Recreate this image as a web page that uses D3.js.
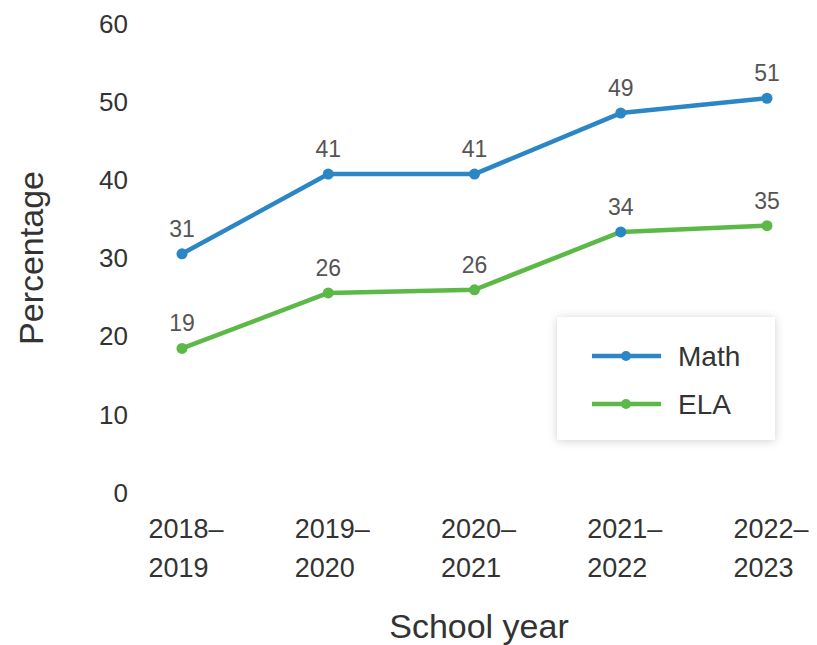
<!DOCTYPE html>
<html>
<head>
<meta charset="utf-8">
<script src="https://cdn.jsdelivr.net/npm/d3@7"></script>
<style>
  body { margin: 0; background: #fff; }
  svg text { font-family: "Liberation Sans", Arial, sans-serif; }
</style>
</head>
<body>
<div id="chart"></div>
<script>
const years = ["2018–2019", "2019–2020", "2020–2021", "2021–2022", "2022–2023"];
const mathValues = [30.6, 40.8, 40.8, 48.6, 50.5];
const elaValues = [18.5, 25.6, 26.0, 33.4, 34.2];
const mathLabels = ["31", "41", "41", "49", "51"];
const elaLabels = ["19", "26", "26", "34", "35"];
const yTicks = [0, 10, 20, 30, 40, 50, 60];

const W = 817, H = 645;
const margin = { top: 24, right: 50, bottom: 152, left: 182 };
const width = 767 - margin.left;
const height = 493 - margin.top;

const series = [
    { name: "Math", values: mathValues, labels: mathLabels, color: "#2b86c5" },
    { name: "ELA", values: elaValues, labels: elaLabels, color: "#5cb847" }
];

const svg = d3.select("#chart").append("svg")
    .attr("width", W)
    .attr("height", H);

const shadow = svg.append("defs").append("filter").attr("id", "shadow")
    .attr("x", "-20%").attr("y", "-20%").attr("width", "140%").attr("height", "140%");
shadow.append("feDropShadow")
    .attr("dx", 0).attr("dy", 1).attr("stdDeviation", 5)
    .attr("flood-color", "#000").attr("flood-opacity", 0.18);

const g = svg.append("g")
    .attr("transform", `translate(${margin.left},${margin.top})`);

const x = d3.scalePoint()
    .domain(years)
    .range([0, width]);

const y = d3.scaleLinear()
    .domain([0, 60])
    .range([height, 0]);

//y axis: labels only, no line or ticks
const yAxis = g.append("g")
    .attr("transform", "translate(-54,0)")
    .call(d3.axisLeft(y).tickValues(yTicks).tickSize(0).tickPadding(0));
yAxis.select(".domain").remove();
yAxis.selectAll("text")
    .attr("font-size", 26)
    .attr("fill", "#333")
    .attr("font-family", null);

//x axis: two-line year labels, left aligned
const xAxis = g.append("g")
    .attr("transform", `translate(0,${height})`)
    .call(d3.axisBottom(x).tickSize(0).tickFormat(""));
xAxis.select(".domain").remove();
xAxis.selectAll(".tick").each(function(d) {
    const parts = d.split("–");
    const t = d3.select(this).append("text")
        .attr("fill", "#333")
        .attr("font-size", 27)
        .attr("text-anchor", "start");
    t.append("tspan").attr("x", -34).attr("y", 45).text(parts[0] + "–");
    t.append("tspan").attr("x", -34).attr("y", 84).text(parts[1]);
});

//axis titles
svg.append("text")
    .attr("transform", "rotate(-90)")
    .attr("x", -258)
    .attr("y", 43)
    .attr("text-anchor", "middle")
    .attr("font-size", 34)
    .attr("fill", "#333")
    .text("Percentage");

svg.append("text")
    .attr("x", 479)
    .attr("y", 638)
    .attr("text-anchor", "middle")
    .attr("font-size", 34)
    .attr("fill", "#333")
    .text("School year");

const line = d3.line()
    .x((d, i) => x(years[i]))
    .y(d => y(d));

series.forEach(s => {
    g.append("path")
        .datum(s.values)
        .attr("fill", "none")
        .attr("stroke", s.color)
        .attr("stroke-width", 4.5)
        .attr("stroke-linejoin", "round")
        .attr("d", line);

    g.selectAll(null)
        .data(s.values)
        .join("circle")
        .attr("cx", (d, i) => x(years[i]))
        .attr("cy", d => y(d))
        .attr("r", 5.5)
        //the reference shows a blue dot on ELA 2021–2022
        .attr("fill", (d, i) => (s.name === "ELA" && i === 3) ? series[0].color : s.color);

    g.selectAll(null)
        .data(s.values)
        .join("text")
        .attr("x", (d, i) => x(years[i]))
        .attr("y", d => y(d) - 17)
        .attr("text-anchor", "middle")
        .attr("font-size", 23)
        .attr("fill", "#555")
        .text((d, i) => s.labels[i]);
});

//legend
const legend = svg.append("g")
    .attr("transform", "translate(557,317)");

legend.append("rect")
    .attr("width", 218)
    .attr("height", 123)
    .attr("fill", "#fff")
    .attr("filter", "url(#shadow)");

const item = legend.selectAll("g")
    .data(series)
    .join("g")
    .attr("transform", (d, i) => `translate(0,${39 + i * 48})`);

item.append("line")
    .attr("x1", 35).attr("x2", 104)
    .attr("stroke", d => d.color)
    .attr("stroke-width", 4.5);

item.append("circle")
    .attr("cx", 69)
    .attr("r", 5)
    .attr("fill", d => d.color);

item.append("text")
    .attr("x", 121)
    .attr("y", 10)
    .attr("font-size", 28)
    .attr("fill", "#333")
    .text(d => d.name);
</script>
</body>
</html>
